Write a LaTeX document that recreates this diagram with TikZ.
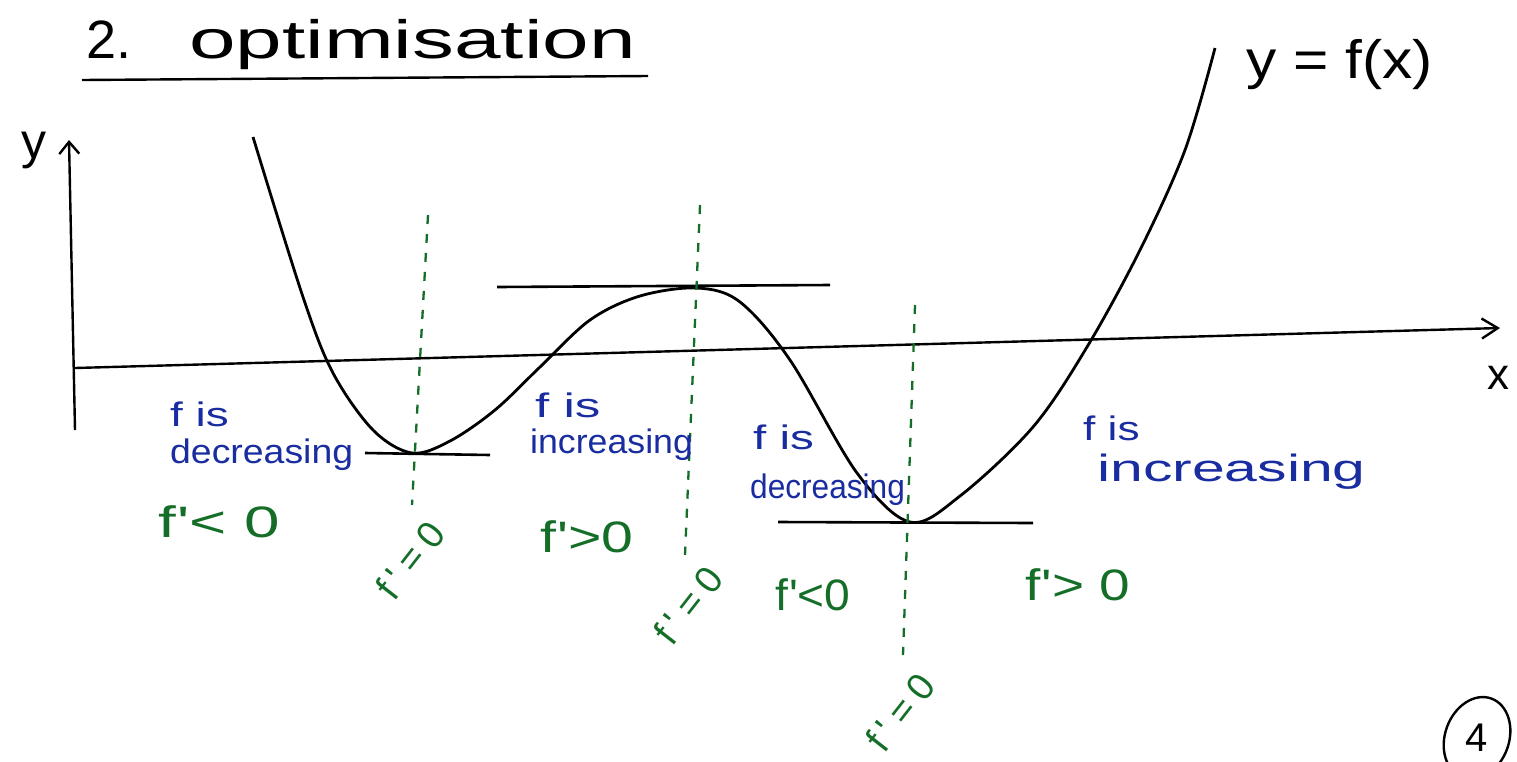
\documentclass[tikz,border=0pt]{standalone}
\usepackage{fontspec}
\usepackage{graphicx}
\setmainfont{Liberation Sans}
\usetikzlibrary{arrows.meta,shapes.geometric}
\definecolor{hblue}{RGB}{25,45,160}
\definecolor{hgreen}{RGB}{20,110,40}
\newcommand{\hwx}[2]{\scalebox{#1}[1]{#2}}
\newcommand{\fp}{f\kern1pt\textquotesingle}
\newcommand{\fpz}{f\hspace{7pt}\textquotesingle\hspace{9pt}=\hspace{9pt}0}
\begin{document}
\begin{tikzpicture}[x=1pt,y=-1pt,
  ink/.style={line width=2.8pt,black},
  axis/.style={line width=2.4pt,black},
  blabel/.style={text=hblue,font=\fontsize{34}{38}\selectfont,inner sep=0pt,anchor=west},
  glabel/.style={text=hgreen,font=\fontsize{44}{48}\selectfont,inner sep=0pt,anchor=west},
  zlabel/.style={text=hgreen,font=\fontsize{38}{42}\selectfont,inner sep=0pt,rotate=52},
  gdash/.style={hgreen,line width=2.3pt,dash pattern=on 9pt off 10pt},
  tangent/.style={line width=2.6pt,black}]
\useasboundingbox (0,0) rectangle (1517,761);
% title
\node[inner sep=0pt,anchor=base west,font=\fontsize{54}{58}\selectfont] (title) at (86,58) {2.\hspace{58pt}\hwx{1.55}{optimisation}};
\draw[line width=2.4pt] (82,80) -- (648,76);
% axes
\coordinate (yb) at (75,430);
\coordinate (yt) at (69,140);
\coordinate (xl) at (75,368);
\coordinate (xr) at (1500,328);
\draw[axis,-{Straight Barb[length=12pt,width=20pt]}] (yb) -- (yt);
\draw[axis,-{Straight Barb[length=16pt,width=20pt]}] (xl) -- (xr);
\node[font=\fontsize{50}{54}\selectfont,inner sep=0pt] (ylab) at (34,150) {y};
\node[font=\fontsize{44}{48}\selectfont,inner sep=0pt] (xlab) at (1498,378) {x};
\node[font=\fontsize{54}{58}\selectfont,inner sep=0pt,anchor=base west] (flab) at (1246,78) {\hwx{1.12}{y = f(x)}};
% curve
\draw[ink] plot[smooth,tension=0.55] coordinates {(253,137) (303,297) (333,373) (373,430) (412,453) (450,441) (495,410) (540,367) (590,320) (640,296) (697,288) (740,302) (790,360) (857,473) (910,522) (960,496) (1033,427) (1087,347) (1140,250) (1185,150) (1215,48)};
% tangents
\draw[tangent] (365,453) -- (490,455);
\draw[tangent] (497,287) -- (830,285);
\draw[tangent] (778,522) -- (1033,523);
% dashed green
\draw[gdash] (428,215) -- (412,505);
\draw[gdash] (700,205) -- (685,555);
\draw[gdash] (915,305) -- (903,655);
% blue labels
\node[blabel] (l1a) at (170,414) {\hwx{1.35}{f is}};
\node[blabel] (l1b) at (170,455) {\hwx{1.1}{decreasing}};
\node[blabel] (l2a) at (535,405) {\hwx{1.5}{f is}};
\node[blabel] (l2b) at (530,445) {\hwx{1.05}{increasing}};
\node[blabel] (l3a) at (753,437) {\hwx{1.4}{f is}};
\node[blabel] (l3b) at (750,490) {\hwx{0.93}{decreasing}};
\node[blabel] (l4a) at (1083,428) {\hwx{1.3}{f is}};
\node[blabel,font=\fontsize{38}{42}\selectfont] (l4b) at (1097,472) {\hwx{1.55}{increasing}};
% green labels
\node[glabel] (g1) at (158,522) {\hwx{1.45}{\fp< 0}};
\node[glabel] (g2) at (540,537) {\hwx{1.3}{\fp>0}};
\node[glabel] (g3) at (775,595) {\hwx{1.05}{\fp<0}};
\node[glabel] (g4) at (1025,585) {\hwx{1.25}{\fp> 0}};
\node[zlabel] (z1) at (410,560) {\fpz};
\node[zlabel] (z2) at (688,605) {\fpz};
\node[zlabel] (z3) at (900,712) {\fpz};
% page number
\node[font=\fontsize{40}{44}\selectfont,inner sep=0pt] (pg) at (1477,738) {4};
\draw[line width=2.4pt,rotate around={-20:(pg.center)}] (pg.center) ellipse [x radius=32, y radius=42];
\end{tikzpicture}
\end{document}
